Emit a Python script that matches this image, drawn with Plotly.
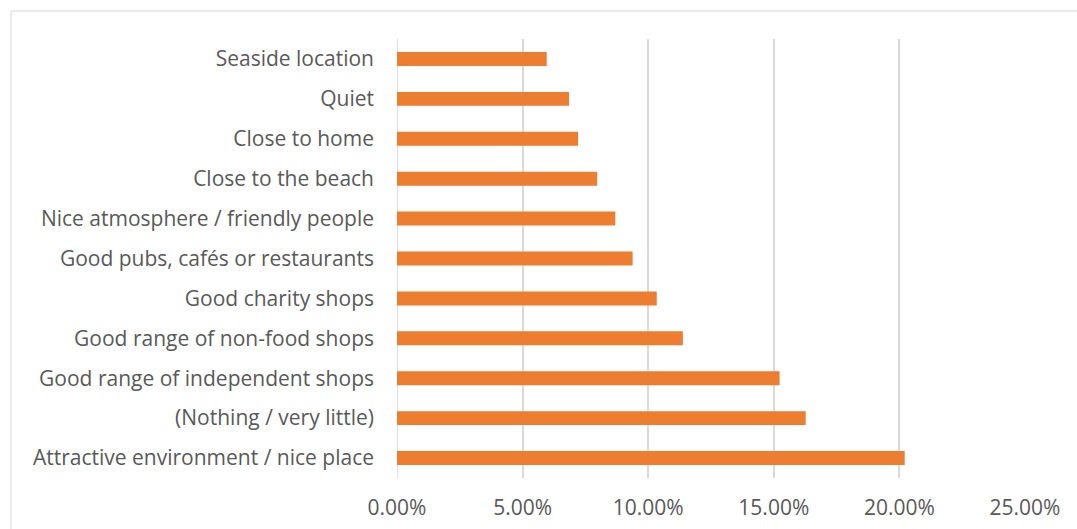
import plotly.graph_objects as go

categories = [
    "Attractive environment / nice place",
    "(Nothing / very little)",
    "Good range of independent shops",
    "Good range of non-food shops",
    "Good charity shops",
    "Good pubs, cafés or restaurants",
    "Nice atmosphere / friendly people",
    "Close to the beach",
    "Close to home",
    "Quiet",
    "Seaside location",
]
values = [0.2021, 0.1627, 0.1523, 0.1138, 0.1034, 0.0938, 0.0869, 0.0797, 0.0721, 0.0685, 0.0596]
tick_vals = [0, 0.05, 0.10, 0.15, 0.20, 0.25]
tick_text = ["0.00%", "5.00%", "10.00%", "15.00%", "20.00%", "25.00%"]

W, H = 1077, 529
L, R, T, B = 397, 52, 39, 51
pw, ph = W - L - R, H - T - B

fig = go.Figure(go.Bar(
    x=values, y=categories, orientation="h",
    marker=dict(color="#ED7D31", line=dict(width=0)),
))

fig.update_layout(
    width=W, height=H,
    margin=dict(l=L, r=R, t=T, b=B, pad=0, autoexpand=False),
    paper_bgcolor="white", plot_bgcolor="white",
    bargap=0.65,
    showlegend=False,
    font=dict(family="Open Sans, sans-serif", size=21, color="#595959"),
    xaxis=dict(
        range=[0, 0.25], tickvals=tick_vals, ticktext=tick_text,
        showgrid=True, gridcolor="#d9d9d9", gridwidth=1.5,
        zeroline=False, showline=False, ticks="",
        ticklabelstandoff=15, automargin=False,
        tickfont=dict(size=21, color="#595959"),
        fixedrange=True,
    ),
    yaxis=dict(
        categoryorder="array", categoryarray=categories,
        showgrid=False, zeroline=False, showline=False, ticks="",
        ticklabelstandoff=22, automargin=False,
        tickfont=dict(size=21, color="#595959"),
        range=[-0.5, len(categories) - 0.5],
        fixedrange=True,
    ),
    shapes=[
        dict(type="line", xref="x", yref="paper", x0=0, x1=0, y0=0, y1=1,
             line=dict(color="#d9d9d9", width=1.5), layer="below"),
        dict(type="rect", xref="paper", yref="paper",
             x0=(11 - L) / pw, x1=(W + 20 - L) / pw,
             y0=-(H + 20 - (T + ph)) / ph, y1=(T + ph - 11) / ph,
             line=dict(color="#d9d9d9", width=1), fillcolor="rgba(0,0,0,0)"),
    ],
)

fig.write_html("out.html")
